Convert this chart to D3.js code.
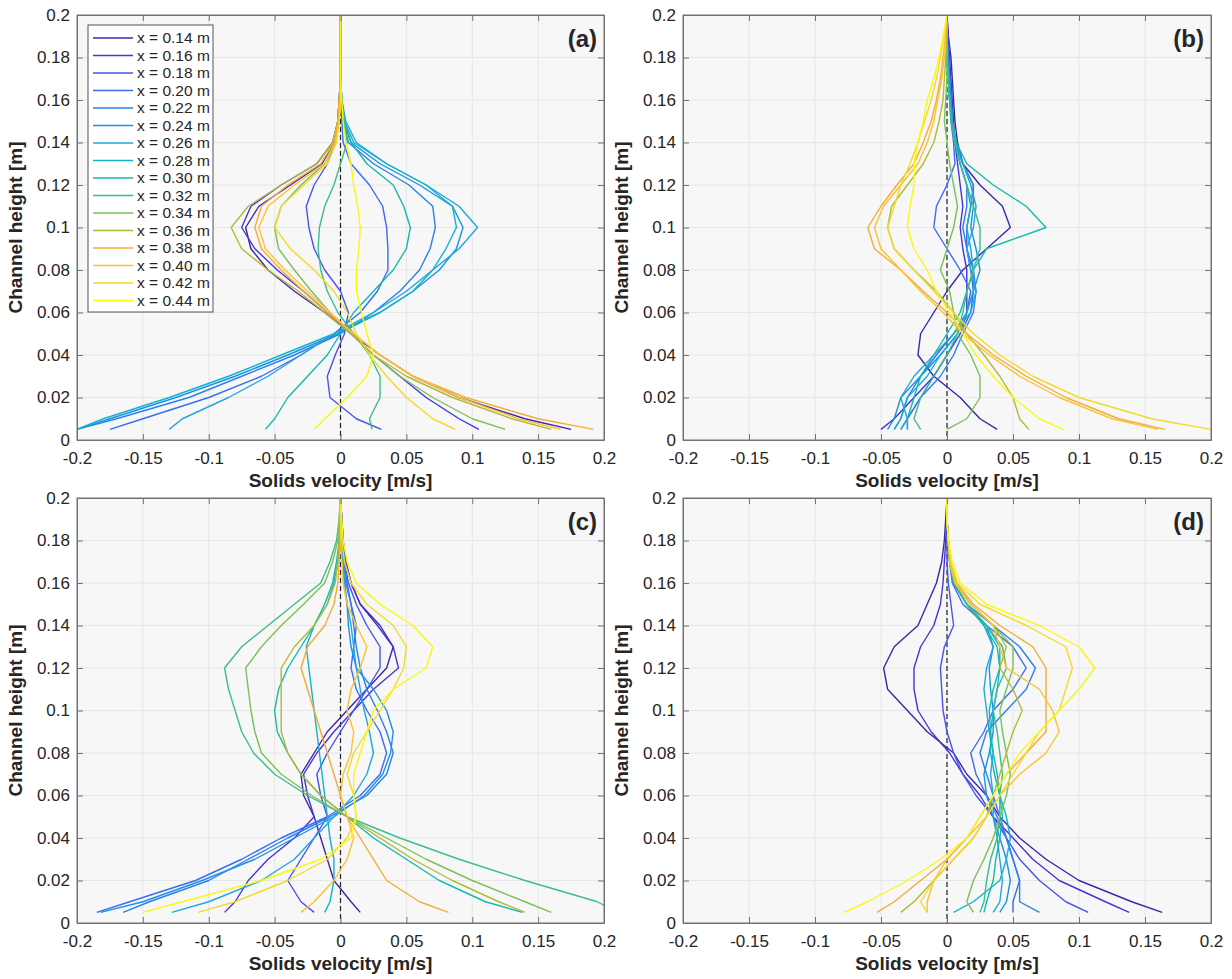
<!DOCTYPE html>
<html><head><meta charset="utf-8">
<script src="https://cdn.jsdelivr.net/npm/d3@7"></script>
<style>
html,body{margin:0;padding:0;background:#fff;}
svg{display:block;font-family:"Liberation Sans",Arial,Helvetica,sans-serif;}
</style></head>
<body><svg id="fig" width="1232" height="979"></svg>
<script>
// ---------------- DATA ----------------
const seriesLabels = ["x = 0.14 m","x = 0.16 m","x = 0.18 m","x = 0.20 m","x = 0.22 m","x = 0.24 m","x = 0.26 m","x = 0.28 m",
  "x = 0.30 m","x = 0.32 m","x = 0.34 m","x = 0.36 m","x = 0.38 m","x = 0.40 m","x = 0.42 m","x = 0.44 m"];
const seriesColors = ["#3e26a8","#4435d4","#4a52ee","#3a6cf6","#2a80ee","#1a92e0","#22a6dc","#10b3cf",
  "#16b9ad","#3cbd8a","#7bbf5c","#b1ba34","#f3ac36","#fbc232","#f3da26","#f9f90e"];
const heights = [0.005,0.01,0.02,0.03,0.04,0.05,0.06,0.07,0.08,0.09,0.10,0.11,0.12,0.13,0.14,0.15,0.16,0.17,0.18,0.19,0.2];
const xTicks = [-0.2,-0.15,-0.1,-0.05,0,0.05,0.1,0.15,0.2];
const yTicks = [0,0.02,0.04,0.06,0.08,0.1,0.12,0.14,0.16,0.18,0.2];
const panelTags = ["(a)","(b)","(c)","(d)"];
const xAxisTitle = "Solids velocity [m/s]";
const yAxisTitle = "Channel height [m]";

// solids velocity [m/s] at each height, one row per x position (0.14 ... 0.44 m)
const velA = [
 [0.175,0.14,0.09,0.055,0.03,0.008,-0.012,-0.035,-0.055,-0.068,-0.072,-0.062,-0.038,-0.014,-0.005,-0.002,-0.001,0,0,0,0],
 [0.105,0.09,0.065,0.045,0.025,0.008,-0.01,-0.028,-0.048,-0.065,-0.075,-0.068,-0.045,-0.018,-0.006,-0.002,-0.001,0,0,0,0],
 [0.031,0.012,-0.008,-0.01,-0.004,0.003,0.006,0.0,-0.012,-0.02,-0.024,-0.026,-0.02,-0.01,-0.004,-0.002,-0.001,0,0,0,0],
 [-0.175,-0.15,-0.1,-0.06,-0.03,-0.005,0.015,0.028,0.036,0.036,0.035,0.032,0.022,0.008,0.002,0.001,0,0,0,0,0],
 [-0.2,-0.17,-0.115,-0.075,-0.035,0.0,0.025,0.045,0.06,0.068,0.072,0.07,0.052,0.025,0.006,0.002,0.001,0,0,0,0],
 [-0.2,-0.175,-0.125,-0.08,-0.04,-0.002,0.03,0.055,0.075,0.088,0.093,0.085,0.06,0.03,0.008,0.002,0.001,0,0,0,0],
 [-0.13,-0.12,-0.085,-0.055,-0.03,-0.005,0.025,0.05,0.07,0.09,0.104,0.09,0.065,0.035,0.01,0.003,0.001,0,0,0,0],
 [-0.2,-0.18,-0.13,-0.085,-0.045,-0.005,0.03,0.055,0.07,0.08,0.088,0.085,0.065,0.035,0.012,0.004,0.001,0,0,0,0],
 [-0.057,-0.05,-0.04,-0.025,-0.01,0.0,0.01,0.025,0.04,0.05,0.053,0.048,0.04,0.02,0.008,0.003,0.001,0,0,0,0],
 [0.024,0.022,0.03,0.03,0.022,0.01,-0.002,-0.01,-0.015,-0.017,-0.016,-0.012,-0.005,0.0,0.005,0.003,0.001,0,0,0,0],
 [0.125,0.1,0.07,0.045,0.025,0.008,-0.008,-0.022,-0.035,-0.047,-0.05,-0.045,-0.03,-0.012,-0.004,-0.001,0,0,0,0,0],
 [0.16,0.13,0.085,0.05,0.025,0.008,-0.012,-0.032,-0.055,-0.075,-0.083,-0.07,-0.045,-0.018,-0.006,-0.002,-0.001,0,0,0,0],
 [0.192,0.15,0.095,0.055,0.03,0.01,-0.01,-0.028,-0.045,-0.06,-0.065,-0.06,-0.04,-0.015,-0.005,-0.002,-0.001,0,0,0,0],
 [0.167,0.135,0.09,0.055,0.03,0.01,-0.008,-0.025,-0.042,-0.057,-0.062,-0.055,-0.035,-0.012,-0.004,-0.001,0,0,0,0,0],
 [0.087,0.07,0.05,0.035,0.022,0.012,0.005,-0.005,-0.02,-0.038,-0.05,-0.045,-0.028,-0.01,-0.003,-0.001,0,0,0,0,0],
 [-0.02,-0.012,0.005,0.02,0.025,0.02,0.016,0.012,0.012,0.014,0.015,0.013,0.01,0.008,0.004,0.002,0.001,0,0,0,0]
];
const velB = [
 [0.038,0.025,0.01,-0.01,-0.022,-0.02,-0.01,0.0,0.012,0.03,0.048,0.042,0.025,0.012,0.008,0.006,0.005,0.004,0.003,0.001,0],
 [-0.05,-0.04,-0.025,-0.01,0.0,0.01,0.015,0.015,0.015,0.012,0.01,0.012,0.01,0.008,0.006,0.005,0.004,0.003,0.002,0.001,0],
 [-0.035,-0.03,-0.02,-0.01,0.0,0.01,0.018,0.02,0.018,0.015,0.015,0.018,0.02,0.012,0.007,0.004,0.003,0.002,0.001,0,0],
 [-0.04,-0.035,-0.03,-0.02,-0.008,0.005,0.015,0.018,0.01,0.0,-0.01,-0.008,0.0,0.006,0.005,0.003,0.002,0.001,0,0,0],
 [-0.03,-0.03,-0.02,-0.005,0.005,0.012,0.02,0.022,0.02,0.015,0.012,0.015,0.015,0.01,0.006,0.004,0.003,0.002,0.001,0,0],
 [-0.045,-0.04,-0.035,-0.02,-0.005,0.008,0.015,0.02,0.025,0.022,0.018,0.02,0.02,0.012,0.007,0.004,0.003,0.002,0.001,0,0],
 [-0.035,-0.03,-0.035,-0.025,-0.01,0.005,0.018,0.022,0.018,0.015,0.02,0.022,0.018,0.012,0.006,0.004,0.002,0.001,0,0,0],
 [-0.04,-0.035,-0.03,-0.015,-0.005,0.008,0.015,0.02,0.02,0.018,0.015,0.018,0.015,0.01,0.006,0.004,0.002,0.001,0,0,0],
 [-0.03,-0.03,-0.025,-0.02,-0.01,0.0,0.01,0.015,0.02,0.03,0.075,0.06,0.035,0.015,0.007,0.004,0.002,0.001,0,0,0],
 [-0.02,-0.025,-0.02,-0.01,0.0,0.008,0.012,0.015,0.02,0.025,0.025,0.02,0.015,0.01,0.006,0.003,0.002,0.001,0,0,0],
 [0.0,0.015,0.025,0.025,0.018,0.008,0.005,0.002,-0.005,0.0,0.005,0.008,0.005,0.002,0.0,-0.002,-0.001,0,0,0,0],
 [0.062,0.055,0.05,0.04,0.028,0.015,0.005,-0.008,-0.025,-0.04,-0.045,-0.042,-0.03,-0.018,-0.01,-0.006,-0.003,-0.002,-0.001,0,0],
 [0.165,0.13,0.09,0.06,0.035,0.015,0.0,-0.018,-0.035,-0.055,-0.06,-0.05,-0.038,-0.025,-0.018,-0.012,-0.008,-0.005,-0.003,-0.001,0],
 [0.16,0.125,0.085,0.055,0.032,0.012,-0.003,-0.02,-0.035,-0.05,-0.055,-0.048,-0.035,-0.022,-0.015,-0.01,-0.007,-0.004,-0.002,-0.001,0],
 [0.2,0.155,0.1,0.065,0.04,0.02,0.005,-0.01,-0.025,-0.04,-0.045,-0.04,-0.035,-0.028,-0.022,-0.017,-0.012,-0.008,-0.005,-0.002,0],
 [0.088,0.07,0.05,0.035,0.022,0.012,0.002,-0.008,-0.015,-0.025,-0.03,-0.028,-0.025,-0.025,-0.022,-0.018,-0.015,-0.01,-0.006,-0.003,0]
];
const velC = [
 [0.015,0.008,-0.005,-0.01,-0.015,-0.02,-0.028,-0.03,-0.02,-0.01,0.005,0.02,0.035,0.04,0.03,0.015,0.008,0.004,0.002,0.001,0],
 [-0.088,-0.08,-0.07,-0.055,-0.035,-0.02,-0.025,-0.028,-0.018,-0.005,0.01,0.025,0.044,0.04,0.028,0.015,0.008,0.004,0.002,0.001,0],
 [-0.02,-0.03,-0.04,-0.03,-0.02,-0.01,-0.015,-0.018,-0.01,0.0,0.01,0.02,0.03,0.03,0.02,0.012,0.006,0.003,0.002,0.001,0],
 [-0.185,-0.16,-0.11,-0.075,-0.045,-0.01,0.015,0.03,0.035,0.03,0.02,0.012,0.008,0.01,0.012,0.008,0.005,0.003,0.002,0.001,0],
 [-0.165,-0.145,-0.1,-0.07,-0.04,-0.008,0.02,0.035,0.04,0.035,0.028,0.02,0.015,0.012,0.01,0.008,0.004,0.002,0.001,0,0],
 [-0.182,-0.15,-0.105,-0.065,-0.035,-0.005,0.018,0.032,0.038,0.04,0.035,0.025,0.012,0.008,0.006,0.005,0.003,0.002,0.001,0,0],
 [-0.128,-0.1,-0.06,-0.035,-0.02,-0.005,0.01,0.02,0.025,0.022,0.018,0.015,0.012,0.01,0.008,0.005,0.003,0.002,0.001,0,0],
 [-0.012,-0.008,-0.005,-0.005,-0.008,-0.01,-0.012,-0.014,-0.016,-0.018,-0.02,-0.022,-0.024,-0.026,-0.02,-0.01,-0.005,-0.002,-0.001,0,0],
 [0.138,0.11,0.075,0.05,0.025,0.005,-0.015,-0.03,-0.04,-0.048,-0.05,-0.047,-0.04,-0.03,-0.02,-0.012,-0.006,-0.003,-0.001,0,0],
 [0.21,0.195,0.14,0.09,0.045,0.005,-0.025,-0.05,-0.066,-0.075,-0.08,-0.085,-0.088,-0.075,-0.055,-0.035,-0.015,-0.008,-0.003,-0.001,0],
 [0.16,0.14,0.1,0.065,0.035,0.005,-0.022,-0.045,-0.06,-0.065,-0.068,-0.07,-0.072,-0.06,-0.045,-0.028,-0.012,-0.006,-0.002,-0.001,0],
 [0.14,0.12,0.085,0.055,0.03,0.005,-0.015,-0.03,-0.04,-0.045,-0.045,-0.045,-0.045,-0.035,-0.02,-0.01,-0.004,-0.002,-0.001,0,0],
 [0.082,0.06,0.035,0.025,0.015,0.005,0.0,-0.005,-0.01,-0.015,-0.02,-0.025,-0.03,-0.025,-0.012,-0.005,-0.002,-0.001,0,0,0],
 [-0.03,-0.02,-0.005,0.005,0.01,0.005,0.0,0.002,0.008,0.01,0.005,0.008,0.015,0.02,0.012,0.005,0.002,0.001,0,0,0],
 [-0.108,-0.08,-0.04,-0.01,0.005,0.012,0.01,0.005,0.01,0.02,0.03,0.04,0.048,0.05,0.04,0.02,0.008,0.003,0.001,0,0],
 [-0.15,-0.12,-0.06,-0.015,0.008,0.012,0.01,0.01,0.015,0.02,0.025,0.04,0.065,0.07,0.055,0.03,0.012,0.005,0.002,0.001,0]
];
const velD = [
 [0.163,0.14,0.1,0.075,0.055,0.04,0.03,0.015,0.005,-0.015,-0.03,-0.045,-0.048,-0.04,-0.022,-0.015,-0.008,-0.004,-0.002,-0.001,0],
 [0.138,0.12,0.085,0.065,0.05,0.035,0.025,0.012,0.002,-0.012,-0.022,-0.025,-0.025,-0.02,-0.01,-0.005,-0.003,-0.002,-0.001,0,0],
 [0.107,0.09,0.07,0.055,0.045,0.035,0.022,0.012,0.005,0.0,-0.003,-0.004,-0.005,-0.002,0.005,0.003,0.001,0,0,0,0],
 [0.05,0.05,0.055,0.05,0.045,0.038,0.03,0.022,0.018,0.028,0.035,0.05,0.06,0.05,0.03,0.012,0.004,0.002,0.001,0,0],
 [0.07,0.055,0.055,0.05,0.045,0.04,0.035,0.03,0.025,0.03,0.045,0.06,0.067,0.055,0.035,0.015,0.005,0.002,0.001,0,0],
 [0.04,0.045,0.048,0.045,0.04,0.035,0.03,0.028,0.032,0.035,0.035,0.033,0.032,0.035,0.03,0.015,0.005,0.002,0.001,0,0],
 [0.035,0.04,0.042,0.04,0.038,0.035,0.035,0.033,0.035,0.032,0.03,0.028,0.03,0.035,0.028,0.015,0.005,0.002,0.001,0,0],
 [0.005,0.02,0.04,0.045,0.048,0.045,0.04,0.036,0.033,0.033,0.035,0.038,0.04,0.04,0.03,0.015,0.005,0.002,0.001,0,0],
 [0.028,0.03,0.035,0.037,0.04,0.042,0.04,0.038,0.035,0.033,0.032,0.035,0.04,0.038,0.028,0.015,0.005,0.002,0.001,0,0],
 [0.025,0.028,0.03,0.033,0.038,0.04,0.04,0.042,0.04,0.038,0.035,0.038,0.045,0.042,0.03,0.015,0.006,0.002,0.001,0,0],
 [0.02,0.015,0.02,0.028,0.035,0.04,0.045,0.048,0.045,0.042,0.04,0.045,0.05,0.05,0.035,0.018,0.006,0.002,0.001,0,0],
 [-0.035,-0.025,-0.01,0.005,0.02,0.03,0.035,0.04,0.045,0.05,0.057,0.05,0.04,0.045,0.035,0.018,0.006,0.002,0.001,0,0],
 [-0.053,-0.04,-0.02,0.0,0.015,0.025,0.035,0.045,0.06,0.075,0.075,0.075,0.075,0.065,0.04,0.02,0.007,0.003,0.001,0,0],
 [-0.015,-0.015,-0.01,0.0,0.015,0.03,0.04,0.055,0.075,0.085,0.08,0.07,0.045,0.04,0.035,0.018,0.006,0.002,0.001,0,0],
 [-0.015,-0.02,-0.01,0.005,0.02,0.03,0.04,0.05,0.06,0.07,0.085,0.09,0.095,0.09,0.06,0.025,0.008,0.003,0.001,0,0],
 [-0.078,-0.06,-0.03,-0.005,0.015,0.025,0.035,0.045,0.055,0.07,0.085,0.1,0.112,0.1,0.07,0.03,0.01,0.004,0.001,0,0]
];

// ---------------- DRAW ----------------
const svg = d3.select("#fig");
const panels = [
  {vel: velA, tag: panelTags[0], x0: 77,  x1: 604,  y0: 15,  y1: 440, legend: true},
  {vel: velB, tag: panelTags[1], x0: 683, x1: 1211, y0: 15,  y1: 440},
  {vel: velC, tag: panelTags[2], x0: 77,  x1: 604,  y0: 498, y1: 923},
  {vel: velD, tag: panelTags[3], x0: 683, x1: 1211, y0: 498, y1: 923}
];
const fmt = v => String(+v.toFixed(3));
const axisCol = "#737373", textCol = "#262626";

panels.forEach((p, pi) => {
  const x = d3.scaleLinear().domain([-0.2, 0.2]).range([p.x0, p.x1]);
  const y = d3.scaleLinear().domain([0, 0.2]).range([p.y1, p.y0]);
  const g = svg.append("g");
  const W = p.x1 - p.x0, H = p.y1 - p.y0;

  g.append("rect").attr("x", p.x0).attr("y", p.y0).attr("width", W).attr("height", H).attr("fill", "#f7f7f7");
  // grid
  g.append("g").selectAll("line").data(xTicks.slice(1, -1)).join("line")
    .attr("x1", d => x(d)).attr("x2", d => x(d)).attr("y1", p.y0).attr("y2", p.y1)
    .attr("stroke", "#e6e6e6").attr("stroke-width", 1);
  g.append("g").selectAll("line").data(yTicks.slice(1, -1)).join("line")
    .attr("y1", d => y(d)).attr("y2", d => y(d)).attr("x1", p.x0).attr("x2", p.x1)
    .attr("stroke", "#e6e6e6").attr("stroke-width", 1);

  const clipId = "clip" + pi;
  svg.append("clipPath").attr("id", clipId).append("rect")
    .attr("x", p.x0).attr("y", p.y0).attr("width", W).attr("height", H);

  // zero line
  g.append("line").attr("x1", x(0)).attr("x2", x(0)).attr("y1", p.y0).attr("y2", p.y1)
    .attr("stroke", "#222").attr("stroke-width", 1.2).attr("stroke-dasharray", "5,3");

  const line = d3.line().x(d => x(d[0])).y(d => y(d[1]));
  const lg = g.append("g").attr("clip-path", `url(#${clipId})`);
  p.vel.forEach((row, i) => {
    const pts = row.map((v, k) => [v, heights[k]]);
    lg.append("path").attr("d", line(pts)).attr("fill", "none")
      .attr("stroke", seriesColors[i]).attr("stroke-width", 1.4).attr("stroke-linejoin", "round");
  });

  // axes (ticks inward, box)
  const ax = g.append("g").attr("transform", `translate(0,${p.y1})`)
    .call(d3.axisBottom(x).tickValues(xTicks).tickFormat(fmt).tickSizeInner(-6).tickSizeOuter(0).tickPadding(12));
  const axT = g.append("g").attr("transform", `translate(0,${p.y0})`)
    .call(d3.axisTop(x).tickValues(xTicks).tickFormat("").tickSizeInner(-6).tickSizeOuter(0));
  const ay = g.append("g").attr("transform", `translate(${p.x0},0)`)
    .call(d3.axisLeft(y).tickValues(yTicks).tickFormat(fmt).tickSizeInner(-6).tickSizeOuter(0).tickPadding(7));
  const ayR = g.append("g").attr("transform", `translate(${p.x1},0)`)
    .call(d3.axisRight(y).tickValues(yTicks).tickFormat("").tickSizeInner(-6).tickSizeOuter(0));
  [ax, axT, ay, ayR].forEach(a => {
    a.select(".domain").attr("stroke", axisCol);
    a.selectAll(".tick line").attr("stroke", axisCol);
    a.selectAll(".tick text").attr("fill", textCol).style("font-size", "17px")
      .style("font-family", '"Liberation Sans", Arial, sans-serif');
  });
  g.append("rect").attr("x", p.x0).attr("y", p.y0).attr("width", W).attr("height", H)
    .attr("fill", "none").attr("stroke", axisCol).attr("stroke-width", 1);

  // titles
  g.append("text").attr("x", (p.x0 + p.x1) / 2).attr("y", p.y1 + 47)
    .attr("text-anchor", "middle").attr("font-size", 19).attr("font-weight", "bold").attr("fill", textCol)
    .text(xAxisTitle);
  g.append("text").attr("transform", `translate(${p.x0 - 55},${(p.y0 + p.y1) / 2}) rotate(-90)`)
    .attr("text-anchor", "middle").attr("font-size", 19).attr("font-weight", "bold").attr("fill", textCol)
    .text(yAxisTitle);
  g.append("text").attr("x", p.x1 - 7).attr("y", p.y0 + 32).attr("text-anchor", "end")
    .attr("font-size", 24).attr("font-weight", "bold").attr("fill", textCol).text(p.tag);

  if (p.legend) {
    const lx = 88, ly = 25, lw = 125, step = 17.5;
    const leg = g.append("g");
    leg.append("rect").attr("x", lx).attr("y", ly).attr("width", lw).attr("height", 287)
      .attr("fill", "#fff").attr("stroke", "#555").attr("stroke-width", 1);
    seriesLabels.forEach((lab, i) => {
      const yy = ly + 13 + i * step;
      leg.append("line").attr("x1", lx + 5).attr("x2", lx + 45).attr("y1", yy).attr("y2", yy)
        .attr("stroke", seriesColors[i]).attr("stroke-width", 1.6);
      leg.append("text").attr("x", lx + 49).attr("y", yy).attr("dy", "0.35em")
        .attr("font-size", 15.5).attr("fill", textCol).text(lab);
    });
  }
});
</script></body></html>
